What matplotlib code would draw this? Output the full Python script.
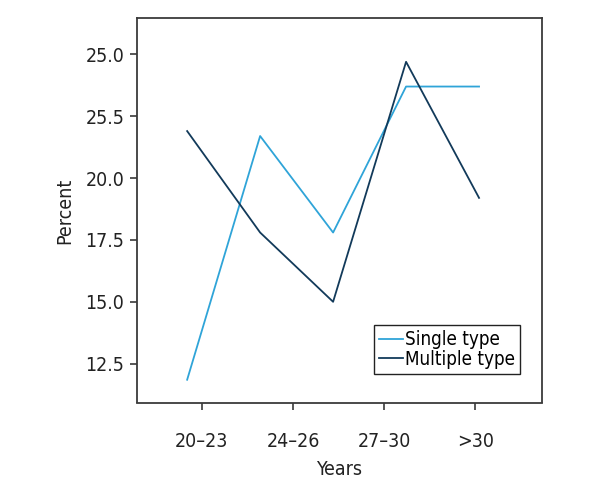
import matplotlib
matplotlib.use('Agg')
import matplotlib.pyplot as plt
from matplotlib.ticker import FixedLocator, FixedFormatter

# values
point_x = [0, 1, 2, 3, 4]
single_type = [11.85, 21.7, 17.8, 23.7, 23.7]
multiple_type = [21.9, 17.8, 15.0, 24.7, 19.2]

age_groups = ['20\u201323', '24\u201326', '27\u201330', '>30']
age_tick_pos = [0.2, 1.45, 2.7, 3.95]

y_ticks = [12.5, 15.0, 17.5, 20.0, 22.5, 25.0]
y_tick_labels = ['12.5', '15.0', '17.5', '20.0', '25.5', '25.0']  # as printed in the source

plt.rcParams['font.family'] = ['DejaVu Sans']
plt.rcParams['font.stretch'] = 'condensed'

fig = plt.figure(figsize=(6, 5), dpi=100)
ax = fig.add_axes([0.228, 0.195, 0.675, 0.768])

ax.plot(point_x, single_type, color='#2fa4d8', lw=1.3, label='Single type')
ax.plot(point_x, multiple_type, color='#123a5a', lw=1.3, label='Multiple type')

ax.set_xlim(-0.69, 4.86)
ax.set_ylim(10.93, 26.45)

ax.xaxis.set_major_locator(FixedLocator(age_tick_pos))
ax.xaxis.set_major_formatter(FixedFormatter(age_groups))
ax.yaxis.set_major_locator(FixedLocator(y_ticks))
ax.yaxis.set_major_formatter(FixedFormatter(y_tick_labels))

for s in ax.spines.values():
    s.set_color('#3a3a3a')
    s.set_linewidth(1.3)

ax.tick_params(axis='both', colors='#3a3a3a', labelcolor='#222222',
               labelsize=14, length=5, width=1.2)
ax.tick_params(axis='x', pad=16)
ax.tick_params(axis='y', pad=4)

ax.set_xlabel('Years', fontsize=14, color='#222222', labelpad=7)
ax.set_ylabel('Percent', fontsize=14, color='#222222', labelpad=8)

leg = ax.legend(loc='lower right', bbox_to_anchor=(0.945, 0.075), fontsize=13.5,
                fancybox=False, framealpha=1, edgecolor='#222222',
                handlelength=1.3, handletextpad=0.1, borderpad=0.25,
                labelspacing=0.05, borderaxespad=0)
leg.get_frame().set_linewidth(1.0)

fig.savefig('out.png', dpi=100)
